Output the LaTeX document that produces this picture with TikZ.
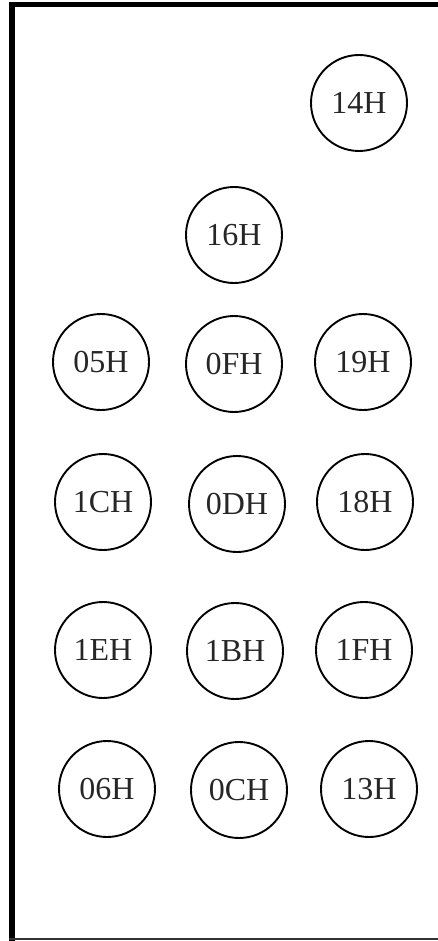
\documentclass[tikz,border=0pt]{standalone}
\usepackage{fontspec}
\setmainfont{Liberation Serif}
\begin{document}
\begin{tikzpicture}[x=1pt,y=-1pt,
  keynode/.style={circle,draw=black,line width=1.9pt,minimum size=96pt,inner sep=0pt,
    text=black!85,font=\fontsize{32}{36}\selectfont}]
\useasboundingbox (0,0) rectangle (438,941);
% border
\draw[line width=5.5pt] (12,2) -- (12,941);
\draw[line width=5pt] (9,5) -- (438,5);
\draw[line width=2pt,black!80] (9,939) -- (438,939);
% keys
\node[keynode] (k14) at (359,103) {14H};
\node[keynode] (k16) at (234,235) {16H};
\node[keynode] (k05) at (101,362) {05H};
\node[keynode] (k0F) at (234,364) {0FH};
\node[keynode] (k19) at (363,362) {19H};
\node[keynode] (k1C) at (103,502) {1CH};
\node[keynode] (k0D) at (237,504) {0DH};
\node[keynode] (k18) at (365,502) {18H};
\node[keynode] (k1E) at (103,650) {1EH};
\node[keynode] (k1B) at (235,651) {1BH};
\node[keynode] (k1F) at (364,650) {1FH};
\node[keynode] (k06) at (107,789) {06H};
\node[keynode] (k0C) at (239,790) {0CH};
\node[keynode] (k13) at (369,789) {13H};
\end{tikzpicture}
\end{document}
